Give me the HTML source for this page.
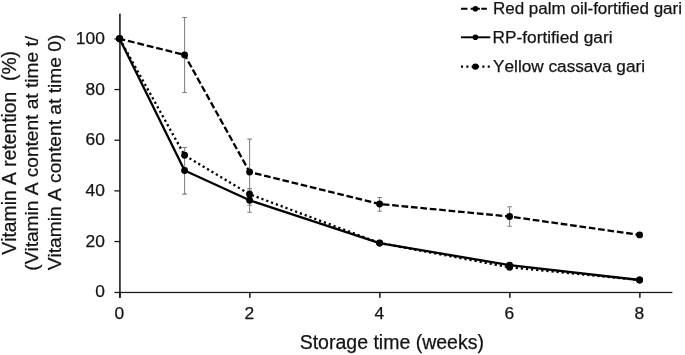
<!DOCTYPE html>
<html>
<head>
<meta charset="utf-8">
<title>Vitamin A retention</title>
<style>
html,body{margin:0;padding:0;background:#fff;}
body{width:685px;height:355px;overflow:hidden;font-family:"Liberation Sans",sans-serif;}
svg{display:block;will-change:transform;}
text{font-family:"Liberation Sans",sans-serif;fill:#141414;stroke:#141414;stroke-width:0.25px;font-kerning:none;}
</style>
</head>
<body>
<svg width="685" height="355" viewBox="0 0 685 355">
<rect width="685" height="355" fill="#fff"/>
<!-- axes -->
<g fill="#161616">
<rect x="119.15" y="13.6" width="1.55" height="284.2"/>
<rect x="114.4" y="291.85" width="558" height="1.25"/>
<rect x="114.4" y="240.89" width="5.5" height="1.3"/><rect x="114.4" y="190.23" width="5.5" height="1.3"/><rect x="114.4" y="139.57" width="5.5" height="1.3"/><rect x="114.4" y="88.91" width="5.5" height="1.3"/><rect x="114.4" y="38.25" width="5.5" height="1.3"/>
<rect x="119.12" y="292" width="1.5" height="5.8"/><rect x="249.12" y="292" width="1.5" height="5.8"/><rect x="379.12" y="292" width="1.5" height="5.8"/><rect x="509.12" y="292" width="1.5" height="5.8"/><rect x="639.12" y="292" width="1.5" height="5.8"/>
</g>
<!-- tick labels -->
<g font-size="17.4" text-anchor="end"><text x="104.85" y="297.35">0</text><text x="104.85" y="246.69">20</text><text x="104.85" y="196.03">40</text><text x="104.85" y="145.37">60</text><text x="104.85" y="94.71">80</text><text x="104.85" y="44.05">100</text></g>
<g font-size="17.4" text-anchor="middle"><text x="119.4" y="318.5">0</text><text x="249.4" y="318.5">2</text><text x="379.4" y="318.5">4</text><text x="509.4" y="318.5">6</text><text x="639.4" y="318.5">8</text></g>
<!-- axis titles -->
<text x="299.7" y="348.5" font-size="19.51">Storage time (weeks)</text>
<g>
<text transform="translate(16,254.65) rotate(-90)" xml:space="preserve" font-size="19.29">Vitamin A retention  (%)</text>
<text transform="translate(38.2,270.7) rotate(-90)" font-size="19.13">(Vitamin A content at time t/</text>
<text transform="translate(60.8,270.35) rotate(-90)" font-size="19.2">Vitamin A content at time 0)</text>
</g>
<!-- error bars -->
<g stroke="#808080" stroke-width="1.05" fill="none">
<path d="M184.6 17.4V92.4M182.3 17.4h4.6M182.3 92.4h4.6"/>
<path d="M184.6 147.4V194.1M182.3 147.4h4.6M182.3 194.1h4.6"/>
<path d="M249.6 139.1V205.3M247.3 139.1h4.6M247.3 205.3h4.6"/>
<path d="M249.6 188.5V212.3M247.3 188.5h4.6M247.3 212.3h4.6"/>
<path d="M249.6 190.2V197.4M247.3 190.2h4.6M247.3 197.4h4.6"/>
<path d="M379.6 197.4V211.3M377.3 197.4h4.6M377.3 211.3h4.6"/>
<path d="M509.6 206.7V226.3M507.3 206.7h4.6M507.3 226.3h4.6"/>
</g>
<!-- series -->
<g fill="none" stroke="#000" stroke-width="2.3" stroke-linejoin="round">
<line x1="119.6" y1="38.8" x2="184.6" y2="54.9" stroke-dasharray="6.8 2.9" stroke-dashoffset="1.1"/>
<line x1="184.6" y1="54.9" x2="249.6" y2="172.0" stroke-dasharray="6.6 2.75" stroke-dashoffset="1.85"/>
<line x1="249.6" y1="172.0" x2="379.6" y2="204.0" stroke-dasharray="6.65 2.77" stroke-dashoffset="3.85"/>
<line x1="379.6" y1="204.0" x2="509.6" y2="216.5" stroke-dasharray="6.7 2.75" stroke-dashoffset="6.32"/>
<line x1="509.6" y1="216.5" x2="639.6" y2="234.9" stroke-dasharray="6.67 2.77" stroke-dashoffset="4.98"/>
<line x1="119.6" y1="38.80" x2="184.6" y2="155.35" stroke-dasharray="2.2 2.93" stroke-dashoffset="4.75"/>
<line x1="184.6" y1="155.35" x2="249.6" y2="194.25" stroke-dasharray="2.2 2.93" stroke-dashoffset="4.6"/>
<line x1="249.6" y1="194.25" x2="379.6" y2="243.00" stroke-dasharray="2.2 2.93" stroke-dashoffset="2.76"/>
<line x1="379.6" y1="243.00" x2="509.6" y2="267.30" stroke-dasharray="2.2 2.93" stroke-dashoffset="0.9"/>
<line x1="509.6" y1="267.30" x2="639.6" y2="280.00" stroke-dasharray="2.2 2.93" stroke-dashoffset="4.13"/>
<polyline points="119.6,38.8 184.6,170.5 249.6,200.3 379.6,243.1 509.6,265.1 639.6,280.0"/>
</g>
<g fill="#000"><circle cx="119.6" cy="38.8" r="3.45"/><circle cx="184.6" cy="54.9" r="3.45"/><circle cx="249.6" cy="172.0" r="3.45"/><circle cx="379.6" cy="204.0" r="3.45"/><circle cx="509.6" cy="216.5" r="3.45"/><circle cx="639.6" cy="234.9" r="3.45"/><circle cx="119.6" cy="38.8" r="3.45"/><circle cx="184.6" cy="155.3" r="3.45"/><circle cx="249.6" cy="194.2" r="3.45"/><circle cx="379.6" cy="243.0" r="3.45"/><circle cx="509.6" cy="267.3" r="3.45"/><circle cx="639.6" cy="280.0" r="3.45"/><circle cx="119.6" cy="38.8" r="3.45"/><circle cx="184.6" cy="170.5" r="3.45"/><circle cx="249.6" cy="200.3" r="3.45"/><circle cx="379.6" cy="243.1" r="3.45"/><circle cx="509.6" cy="265.1" r="3.45"/><circle cx="639.6" cy="280.0" r="3.45"/></g>
<!-- legend -->
<g fill="none" stroke="#000" stroke-width="1.9">
<path d="M461 8.8h6.5M470.7 8.8h9.2M481.3 8.8h5.6"/>
<line x1="461" y1="37.3" x2="490.3" y2="37.3"/>
<line x1="460.95" y1="66.6" x2="490" y2="66.6" stroke-dasharray="2.1 3.25" stroke-width="2.1"/>
</g>
<g fill="#000"><circle cx="475.4" cy="8.8" r="2.8"/><circle cx="475.4" cy="37.3" r="2.8"/><circle cx="475.4" cy="66.6" r="3.2"/></g>
<g>
<text x="492.9" y="14.0" font-size="17.03">Red palm oil-fortified gari</text>
<text x="492.5" y="43.1" font-size="17.29">RP-fortified gari</text>
<text x="493.1" y="72.4" font-size="17.21">Yellow cassava gari</text>
</g>
</svg>
</body>
</html>
